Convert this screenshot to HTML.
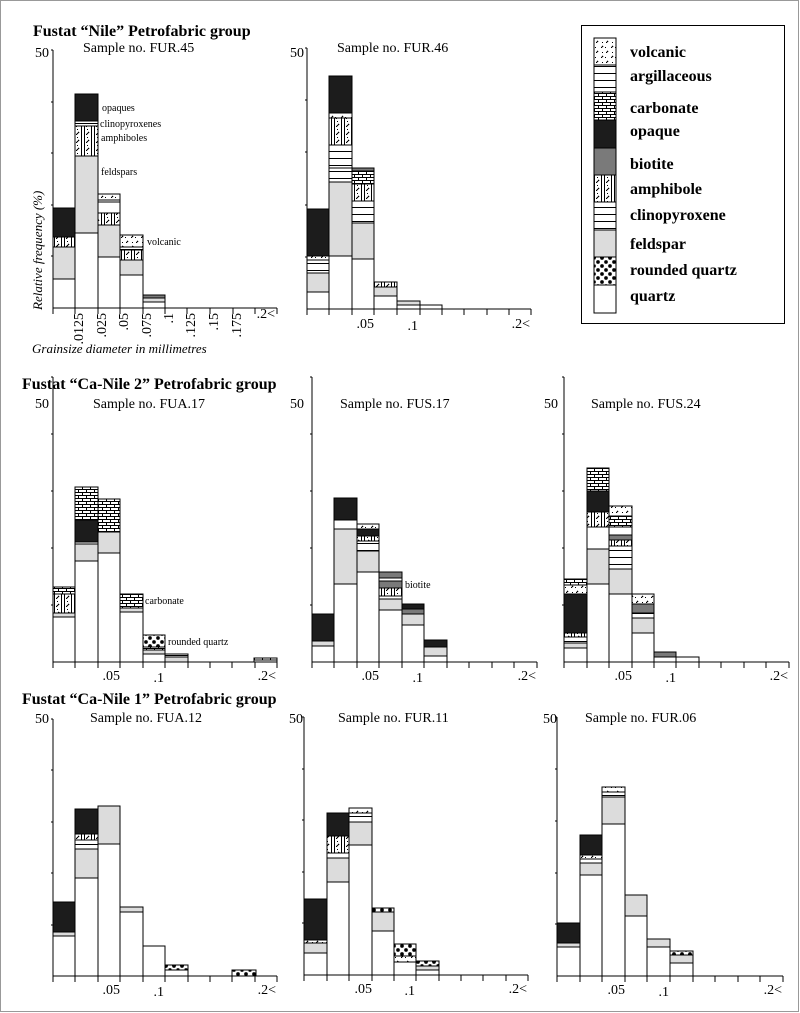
<!DOCTYPE html>
<html><head><meta charset="utf-8"><style>
html,body{margin:0;padding:0;background:#fff}
svg{display:block}
text{font-family:"Liberation Serif",serif;fill:#000}
.s rect{stroke:#000;stroke-width:1}
.q{fill:#fff}.f{fill:#dcdcdc}.o{fill:#1c1c1c}.b{fill:#7a7a7a}
.a{fill:url(#pa)}.c{fill:url(#pc)}.v{fill:url(#pv)}.r{fill:url(#pr)}.g{fill:url(#pg)}.x{fill:url(#px)}
.ax{stroke:#000;stroke-width:1;fill:none}
</style></head><body>
<svg width="800" height="1013" viewBox="0 0 800 1013" shape-rendering="crispEdges">
<defs>
<pattern id="pv" width="10" height="10" patternUnits="userSpaceOnUse"><rect width="10" height="10" fill="#fff"/><path d="M1 8l2-2M6 3l2-2" stroke="#000" stroke-width="1"/><rect x="5" y="7" width="1" height="1" fill="#000"/><rect x="2" y="2" width="1" height="1" fill="#000"/></pattern>
<pattern id="pg" width="6" height="7" patternUnits="userSpaceOnUse"><rect width="6" height="7" fill="#fff"/><rect y="3" width="6" height="1" fill="#000"/></pattern>
<pattern id="px" width="6" height="7" patternUnits="userSpaceOnUse"><rect width="6" height="7" fill="#fff"/><rect y="4" width="6" height="1" fill="#000"/></pattern>
<pattern id="pc" width="8" height="6" patternUnits="userSpaceOnUse"><rect width="8" height="6" fill="#fff"/><rect y="0" width="8" height="1" fill="#000"/><rect y="3" width="8" height="1" fill="#000"/><rect x="2" y="1" width="1" height="2" fill="#000"/><rect x="6" y="4" width="1" height="2" fill="#000"/></pattern>
<pattern id="pa" width="10" height="8" patternUnits="userSpaceOnUse"><rect width="10" height="8" fill="#fff"/><rect x="1" width="1" height="8" fill="#000"/><rect x="4" width="1" height="8" fill="#000"/><path d="M6 7l3-3" stroke="#000" stroke-width="1"/><rect x="7" y="1" width="1" height="1" fill="#000"/></pattern>
<pattern id="pr" width="8" height="8" patternUnits="userSpaceOnUse"><rect width="8" height="8" fill="#fff"/><circle cx="2" cy="2" r="1.8" fill="#000"/><circle cx="6" cy="6" r="1.8" fill="#000"/></pattern>
</defs>
<rect x="0.5" y="0.5" width="798" height="1011" fill="none" stroke="#999"/>

<text x="33" y="36" font-size="16" font-weight="bold">Fustat “Nile” Petrofabric group</text>
<text x="22" y="389" font-size="16" font-weight="bold">Fustat “Ca-Nile 2” Petrofabric group</text>
<text x="22" y="704" font-size="16" font-weight="bold">Fustat “Ca-Nile 1” Petrofabric group</text>

<g font-size="14">
<text x="83" y="52">Sample no. FUR.45</text>
<text x="337" y="52">Sample no. FUR.46</text>
<text x="93" y="408">Sample no. FUA.17</text>
<text x="340" y="408">Sample no. FUS.17</text>
<text x="591" y="408">Sample no. FUS.24</text>
<text x="90" y="722">Sample no. FUA.12</text>
<text x="338" y="722">Sample no. FUR.11</text>
<text x="585" y="722">Sample no. FUR.06</text>
<text x="35" y="57">50</text><text x="290" y="57">50</text>
<text x="35" y="408">50</text><text x="290" y="408">50</text><text x="544" y="408">50</text>
<text x="35" y="723">50</text><text x="289" y="723">50</text><text x="543" y="723">50</text>
</g>

<g class="ax">
<path d="M53 50V308H277M53 50h-2M53 102h-2M53 153h-2M53 205h-2M53 256h-2M53 308v6M75 308v6M98 308v6M120 308v6M143 308v6M165 308v6M187 308v6M210 308v6M233 308v6M255 308v6M277 308v6"/>
<path d="M307 48V309H531M307 48h-2M307 100h-2M307 152h-2M307 205h-2M307 257h-2M307 309v6M329 309v6M352 309v6M374 309v6M397 309v6M420 309v6M442 309v6M464 309v6M487 309v6M509 309v6M531 309v6"/>
<path d="M53 377V662H277M53 377h-2M53 434h-2M53 491h-2M53 548h-2M53 605h-2M53 662v6M75 662v6M98 662v6M120 662v6M143 662v6M165 662v6M188 662v6M210 662v6M232 662v6M255 662v6M277 662v6"/>
<path d="M312 377V662H537M312 377h-2M312 434h-2M312 491h-2M312 548h-2M312 605h-2M312 662v6M334 662v6M357 662v6M379 662v6M402 662v6M424 662v6M447 662v6M469 662v6M492 662v6M514 662v6M537 662v6"/>
<path d="M564 377V662H789M564 377h-2M564 434h-2M564 491h-2M564 548h-2M564 605h-2M564 662v6M587 662v6M609 662v6M632 662v6M654 662v6M676 662v6M699 662v6M721 662v6M744 662v6M766 662v6M789 662v6"/>
<path d="M53 719V976H277M53 719h-2M53 770h-2M53 822h-2M53 873h-2M53 925h-2M53 976v6M75 976v6M98 976v6M120 976v6M143 976v6M165 976v6M188 976v6M210 976v6M232 976v6M255 976v6M277 976v6"/>
<path d="M304 717V975H528M304 717h-2M304 769h-2M304 820h-2M304 872h-2M304 923h-2M304 975v6M327 975v6M349 975v6M372 975v6M394 975v6M416 975v6M439 975v6M461 975v6M483 975v6M506 975v6M528 975v6"/>
<path d="M557 717V976H783M557 717h-2M557 769h-2M557 821h-2M557 873h-2M557 924h-2M557 976v6M580 976v6M602 976v6M625 976v6M647 976v6M670 976v6M693 976v6M715 976v6M738 976v6M760 976v6M783 976v6"/>
</g>

<g font-size="14">
<g text-anchor="end">
<text transform="translate(83,313) rotate(-90)">.0125</text>
<text transform="translate(106,313) rotate(-90)">.025</text>
<text transform="translate(128,313) rotate(-90)">.05</text>
<text transform="translate(151,313) rotate(-90)">.075</text>
<text transform="translate(173,313) rotate(-90)">.1</text>
<text transform="translate(195,313) rotate(-90)">.125</text>
<text transform="translate(218,313) rotate(-90)">.15</text>
<text transform="translate(241,313) rotate(-90)">.175</text>
<text x="275" y="318">.2&lt;</text>
<text x="374" y="328">.05</text><text x="418" y="330">.1</text><text x="530" y="328">.2&lt;</text>
<text x="120" y="680">.05</text><text x="164" y="682">.1</text><text x="276" y="680">.2&lt;</text>
<text x="379" y="680">.05</text><text x="423" y="682">.1</text><text x="536" y="680">.2&lt;</text>
<text x="632" y="680">.05</text><text x="676" y="682">.1</text><text x="788" y="680">.2&lt;</text>
<text x="120" y="994">.05</text><text x="164" y="996">.1</text><text x="276" y="994">.2&lt;</text>
<text x="372" y="993">.05</text><text x="415" y="995">.1</text><text x="527" y="993">.2&lt;</text>
<text x="625" y="994">.05</text><text x="669" y="996">.1</text><text x="782" y="994">.2&lt;</text>
</g>
<text x="32" y="353" font-style="italic" font-size="13">Grainsize diameter in millimetres</text>
<text transform="translate(42,310) rotate(-90)" font-style="italic" font-size="13">Relative frequency (%)</text>
</g>

<g font-size="10">
<text x="102" y="111">opaques</text>
<text x="100" y="127">clinopyroxenes</text>
<text x="101" y="141">amphiboles</text>
<text x="101" y="175">feldspars</text>
<text x="147" y="245">volcanic</text>
<text x="145" y="604">carbonate</text>
<text x="168" y="645">rounded quartz</text>
<text x="405" y="588">biotite</text>
</g>

<g class="s">
<rect class="o" x="53" y="208" width="22" height="29"/><rect class="a" x="53" y="237" width="22" height="10"/><rect class="f" x="53" y="247" width="22" height="32"/><rect class="q" x="53" y="279" width="22" height="29"/>
<rect class="o" x="75" y="94" width="23" height="27"/><rect class="x" x="75" y="121" width="23" height="5"/><rect class="a" x="75" y="126" width="23" height="30"/><rect class="f" x="75" y="156" width="23" height="77"/><rect class="q" x="75" y="233" width="23" height="75"/>
<rect class="v" x="98" y="194" width="22" height="6"/><rect class="g" x="98" y="200" width="22" height="2"/><rect class="q" x="98" y="202" width="22" height="11"/><rect class="a" x="98" y="213" width="22" height="12"/><rect class="f" x="98" y="225" width="22" height="32"/><rect class="q" x="98" y="257" width="22" height="51"/>
<rect class="v" x="120" y="235" width="23" height="12"/><rect class="x" x="120" y="247" width="23" height="3"/><rect class="a" x="120" y="250" width="23" height="10"/><rect class="f" x="120" y="260" width="23" height="15"/><rect class="q" x="120" y="275" width="23" height="33"/>
<rect class="b" x="143" y="295" width="22" height="3"/><rect class="f" x="143" y="298" width="22" height="4"/><rect class="q" x="143" y="302" width="22" height="6"/>
<rect class="o" x="307" y="209" width="22" height="47"/><rect class="v" x="307" y="256" width="22" height="4"/><rect class="x" x="307" y="260" width="22" height="13"/><rect class="f" x="307" y="273" width="22" height="19"/><rect class="q" x="307" y="292" width="22" height="17"/>
<rect class="o" x="329" y="76" width="23" height="37"/><rect class="v" x="329" y="113" width="23" height="5"/><rect class="a" x="329" y="118" width="23" height="27"/><rect class="x" x="329" y="145" width="23" height="23"/><rect class="g" x="329" y="168" width="23" height="14"/><rect class="f" x="329" y="182" width="23" height="74"/><rect class="q" x="329" y="256" width="23" height="53"/>
<rect class="b" x="352" y="168" width="22" height="3"/><rect class="c" x="352" y="171" width="22" height="13"/><rect class="a" x="352" y="184" width="22" height="17"/><rect class="x" x="352" y="201" width="22" height="22"/><rect class="f" x="352" y="223" width="22" height="36"/><rect class="q" x="352" y="259" width="22" height="50"/>
<rect class="a" x="374" y="282" width="23" height="5"/><rect class="f" x="374" y="287" width="23" height="9"/><rect class="q" x="374" y="296" width="23" height="13"/>
<rect class="f" x="397" y="301" width="23" height="4"/><rect class="q" x="397" y="305" width="23" height="4"/>
<rect class="q" x="420" y="305" width="22" height="4"/>
<rect class="c" x="53" y="587" width="22" height="7"/><rect class="a" x="53" y="594" width="22" height="19"/><rect class="f" x="53" y="613" width="22" height="4"/><rect class="q" x="53" y="617" width="22" height="45"/>
<rect class="c" x="75" y="487" width="23" height="33"/><rect class="o" x="75" y="520" width="23" height="22"/><rect class="q" x="75" y="542" width="23" height="2"/><rect class="f" x="75" y="544" width="23" height="17"/><rect class="q" x="75" y="561" width="23" height="101"/>
<rect class="c" x="98" y="499" width="22" height="33"/><rect class="f" x="98" y="532" width="22" height="21"/><rect class="q" x="98" y="553" width="22" height="109"/>
<rect class="c" x="120" y="594" width="23" height="14"/><rect class="f" x="120" y="608" width="23" height="4"/><rect class="q" x="120" y="612" width="23" height="50"/>
<rect class="r" x="143" y="635" width="22" height="12"/><rect class="c" x="143" y="647" width="22" height="3"/><rect class="f" x="143" y="650" width="22" height="4"/><rect class="q" x="143" y="654" width="22" height="8"/>
<rect class="x" x="165" y="654" width="23" height="3"/><rect class="f" x="165" y="657" width="23" height="5"/>
<rect class="c" x="254" y="658" width="23" height="2"/><rect class="q" x="254" y="660" width="23" height="2"/>
<rect class="o" x="312" y="614" width="22" height="27"/><rect class="f" x="312" y="641" width="22" height="5"/><rect class="q" x="312" y="646" width="22" height="16"/>
<rect class="o" x="334" y="498" width="23" height="22"/><rect class="q" x="334" y="520" width="23" height="9"/><rect class="f" x="334" y="529" width="23" height="55"/><rect class="q" x="334" y="584" width="23" height="78"/>
<rect class="v" x="357" y="524" width="22" height="5"/><rect class="o" x="357" y="529" width="22" height="7"/><rect class="a" x="357" y="536" width="22" height="5"/><rect class="x" x="357" y="541" width="22" height="10"/><rect class="f" x="357" y="551" width="22" height="21"/><rect class="q" x="357" y="572" width="22" height="90"/>
<rect class="b" x="379" y="572" width="23" height="6"/><rect class="g" x="379" y="578" width="23" height="3"/><rect class="b" x="379" y="581" width="23" height="7"/><rect class="a" x="379" y="588" width="23" height="8"/><rect class="x" x="379" y="596" width="23" height="3"/><rect class="f" x="379" y="599" width="23" height="11"/><rect class="q" x="379" y="610" width="23" height="52"/>
<rect class="o" x="402" y="604" width="22" height="5"/><rect class="b" x="402" y="609" width="22" height="5"/><rect class="f" x="402" y="614" width="22" height="11"/><rect class="q" x="402" y="625" width="22" height="37"/>
<rect class="o" x="424" y="640" width="23" height="7"/><rect class="f" x="424" y="647" width="23" height="9"/><rect class="q" x="424" y="656" width="23" height="6"/>
<rect class="c" x="564" y="579" width="23" height="6"/><rect class="v" x="564" y="585" width="23" height="9"/><rect class="o" x="564" y="594" width="23" height="39"/><rect class="a" x="564" y="633" width="23" height="4"/><rect class="x" x="564" y="637" width="23" height="6"/><rect class="f" x="564" y="643" width="23" height="5"/><rect class="q" x="564" y="648" width="23" height="14"/>
<rect class="c" x="587" y="468" width="22" height="23"/><rect class="o" x="587" y="491" width="22" height="21"/><rect class="a" x="587" y="512" width="22" height="15"/><rect class="q" x="587" y="527" width="22" height="22"/><rect class="f" x="587" y="549" width="22" height="35"/><rect class="q" x="587" y="584" width="22" height="78"/>
<rect class="v" x="609" y="506" width="23" height="10"/><rect class="c" x="609" y="516" width="23" height="11"/><rect class="q" x="609" y="527" width="23" height="8"/><rect class="b" x="609" y="535" width="23" height="5"/><rect class="a" x="609" y="540" width="23" height="6"/><rect class="x" x="609" y="546" width="23" height="23"/><rect class="f" x="609" y="569" width="23" height="25"/><rect class="q" x="609" y="594" width="23" height="68"/>
<rect class="v" x="632" y="594" width="22" height="10"/><rect class="b" x="632" y="604" width="22" height="9"/><rect class="x" x="632" y="613" width="22" height="5"/><rect class="f" x="632" y="618" width="22" height="15"/><rect class="q" x="632" y="633" width="22" height="29"/>
<rect class="b" x="654" y="652" width="22" height="5"/><rect class="q" x="654" y="657" width="22" height="5"/>
<rect class="q" x="676" y="657" width="23" height="5"/>
<rect class="o" x="53" y="902" width="22" height="30"/><rect class="f" x="53" y="932" width="22" height="4"/><rect class="q" x="53" y="936" width="22" height="40"/>
<rect class="o" x="75" y="809" width="23" height="25"/><rect class="a" x="75" y="834" width="23" height="6"/><rect class="x" x="75" y="840" width="23" height="9"/><rect class="f" x="75" y="849" width="23" height="29"/><rect class="q" x="75" y="878" width="23" height="98"/>
<rect class="f" x="98" y="806" width="22" height="38"/><rect class="q" x="98" y="844" width="22" height="132"/>
<rect class="f" x="120" y="907" width="23" height="5"/><rect class="q" x="120" y="912" width="23" height="64"/>
<rect class="q" x="143" y="946" width="22" height="30"/>
<rect class="r" x="165" y="965" width="23" height="5"/><rect class="q" x="165" y="970" width="23" height="6"/>
<rect class="r" x="232" y="970" width="24" height="6"/>
<rect class="o" x="304" y="899" width="23" height="41"/><rect class="v" x="304" y="940" width="23" height="3"/><rect class="f" x="304" y="943" width="23" height="10"/><rect class="q" x="304" y="953" width="23" height="22"/>
<rect class="o" x="327" y="813" width="22" height="23"/><rect class="a" x="327" y="836" width="22" height="17"/><rect class="q" x="327" y="853" width="22" height="5"/><rect class="f" x="327" y="858" width="22" height="24"/><rect class="q" x="327" y="882" width="22" height="93"/>
<rect class="v" x="349" y="808" width="23" height="5"/><rect class="x" x="349" y="813" width="23" height="9"/><rect class="f" x="349" y="822" width="23" height="23"/><rect class="q" x="349" y="845" width="23" height="130"/>
<rect class="r" x="372" y="908" width="22" height="4"/><rect class="f" x="372" y="912" width="22" height="19"/><rect class="q" x="372" y="931" width="22" height="44"/>
<rect class="r" x="394" y="944" width="22" height="12"/><rect class="v" x="394" y="956" width="22" height="6"/><rect class="q" x="394" y="962" width="22" height="13"/>
<rect class="r" x="416" y="961" width="23" height="5"/><rect class="f" x="416" y="966" width="23" height="4"/><rect class="q" x="416" y="970" width="23" height="5"/>
<rect class="o" x="557" y="923" width="23" height="20"/><rect class="f" x="557" y="943" width="23" height="4"/><rect class="q" x="557" y="947" width="23" height="29"/>
<rect class="o" x="580" y="835" width="22" height="20"/><rect class="v" x="580" y="855" width="22" height="4"/><rect class="x" x="580" y="859" width="22" height="4"/><rect class="f" x="580" y="863" width="22" height="12"/><rect class="q" x="580" y="875" width="22" height="101"/>
<rect class="v" x="602" y="787" width="23" height="5"/><rect class="x" x="602" y="792" width="23" height="5"/><rect class="f" x="602" y="797" width="23" height="27"/><rect class="q" x="602" y="824" width="23" height="152"/>
<rect class="f" x="625" y="895" width="22" height="21"/><rect class="q" x="625" y="916" width="22" height="60"/>
<rect class="f" x="647" y="939" width="23" height="8"/><rect class="q" x="647" y="947" width="23" height="29"/>
<rect class="r" x="670" y="951" width="23" height="4"/><rect class="f" x="670" y="955" width="23" height="8"/><rect class="q" x="670" y="963" width="23" height="13"/>
</g>

<rect x="581.5" y="25.5" width="203" height="298" fill="#fff" stroke="#000"/>
<g class="s">
<rect class="v" x="594" y="38" width="22" height="27"/>
<rect class="g" x="594" y="65" width="22" height="27"/>
<rect class="c" x="594" y="92" width="22" height="28"/>
<rect class="o" x="594" y="120" width="22" height="28"/>
<rect class="b" x="594" y="148" width="22" height="27"/>
<rect class="a" x="594" y="175" width="22" height="27"/>
<rect class="x" x="594" y="202" width="22" height="28"/>
<rect class="f" x="594" y="230" width="22" height="27"/>
<rect class="r" x="594" y="257" width="22" height="28"/>
<rect class="q" x="594" y="285" width="22" height="28"/>
</g>
<g font-size="16" font-weight="bold">
<text x="630" y="57">volcanic</text>
<text x="630" y="81">argillaceous</text>
<text x="630" y="113">carbonate</text>
<text x="630" y="136">opaque</text>
<text x="630" y="169">biotite</text>
<text x="630" y="194">amphibole</text>
<text x="630" y="220">clinopyroxene</text>
<text x="630" y="249">feldspar</text>
<text x="630" y="275">rounded quartz</text>
<text x="630" y="301">quartz</text>
</g>
</svg>
</body></html>
